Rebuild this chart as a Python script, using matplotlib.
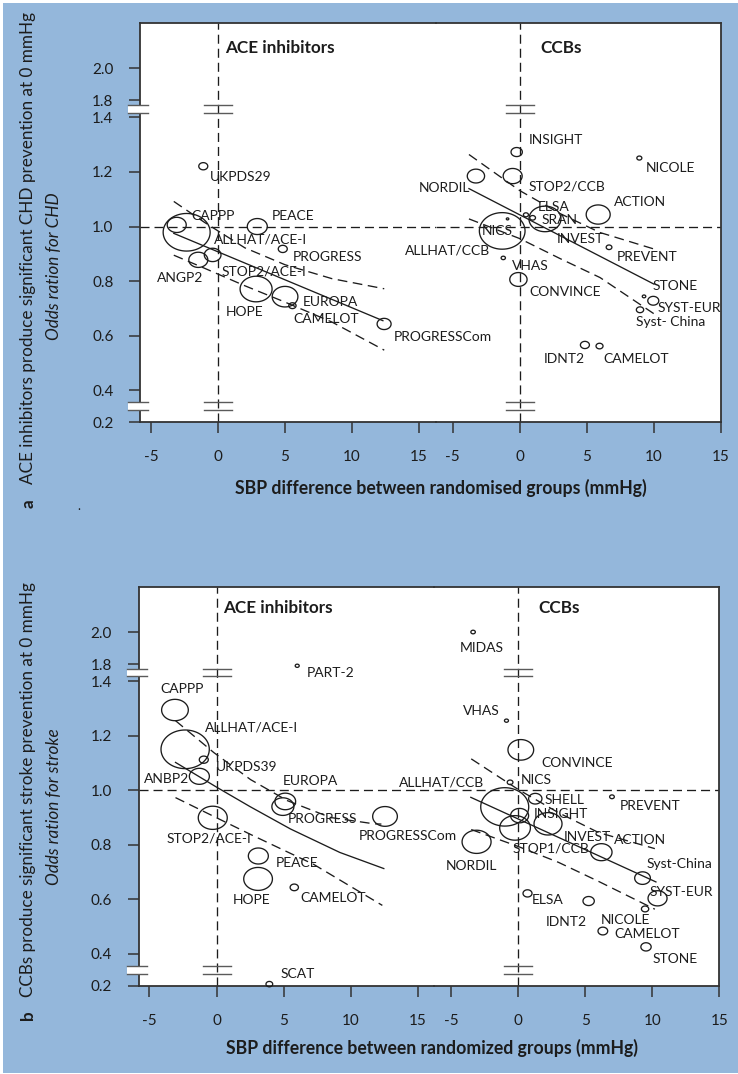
import numpy as np
import matplotlib
matplotlib.use("Agg")
import matplotlib.pyplot as plt
from matplotlib.path import Path
from matplotlib.patches import Rectangle
from matplotlib.lines import Line2D
from matplotlib.transforms import IdentityTransform

plt.rcParams["font.family"] = ["Lato", "DejaVu Sans"]
plt.rcParams["lines.scale_dashes"] = False

W, H, DPI = 738, 1074, 100
PT = DPI / 72.0  # pixels per point

# ---------------------------------------------------------------- data
y_ticks = [0.2, 0.4, 0.6, 0.8, 1.0, 1.2, 1.4, 1.8, 2.0]
y_tick_labels = ["0.2", "0.4", "0.6", "0.8", "1.0", "1.2", "1.4", "1.8", "2.0"]
x_ticks = [-5, 0, 5, 10, 15]
x_tick_labels = ["-5", "0", "5", "10", "15"]

# Panel a: CHD, ACE inhibitor trials
chd_ace_names = ["UKPDS29", "CAPPP", "ALLHAT/ACE-I", "PEACE", "PROGRESS", "ANGP2",
                 "STOP2/ACE-I", "HOPE", "EUROPA", "CAMELOT", "PROGRESSCom"]
chd_ace_sbp = [-1.1, -3.08, -2.34, 2.93, 4.83, -1.47, -0.4, 2.84, 5.0, 5.55, 12.39]
chd_ace_or = [1.221, 1.006, 0.979, 1.0, 0.918, 0.878, 0.896, 0.771, 0.743, 0.710, 0.643]
chd_ace_weight = [10, 20, 48, 21, 10, 20, 17.7, 33, 26.7, 8.3, 15]
chd_ace_fit_sbp = [-3.3, 12.3]
chd_ace_fit_or = [0.975, 0.655]
chd_ace_hi_sbp = [-3.3, -1, 2, 5, 8.5, 12.4]
chd_ace_hi_or = [1.092, 1.015, 0.922, 0.860, 0.809, 0.772]
chd_ace_lo_sbp = [-3.3, -1, 2, 5, 8.5, 12.4]
chd_ace_lo_or = [0.895, 0.847, 0.783, 0.723, 0.650, 0.547]

# Panel a: CHD, calcium channel blocker trials
chd_ccb_names = ["INSIGHT", "NORDIL", "STOP2/CCB", "NICOLE", "ELSA", "SRAN", "INVEST",
                 "ACTION", "PREVENT", "NICS", "ALLHAT/CCB", "VHAS", "CONVINCE", "STONE",
                 "SYST-EUR", "Syst- China", "IDNT2", "CAMELOT"]
chd_ccb_sbp = [-0.22, -3.26, -0.52, 8.93, 0.47, 0.97, 1.89, 5.86, 6.67, -0.9, -1.3,
               -1.22, -0.09, 9.28, 9.97, 8.98, 4.87, 5.96]
chd_ccb_or = [1.273, 1.185, 1.185, 1.251, 1.043, 1.032, 1.028, 1.044, 0.924, 1.028,
              0.984, 0.885, 0.806, 0.744, 0.728, 0.695, 0.566, 0.562]
chd_ccb_weight = [12.3, 18.3, 20, 6, 6, 6.7, 33, 25, 6.7, 3.5, 46.7, 5.3, 18.3, 4.5,
                  12, 8.3, 10, 8]
chd_ccb_fit_sbp = [-3.78, 10.02]
chd_ccb_fit_or = [1.139, 0.789]
chd_ccb_hi_sbp = [-3.78, 0, 3, 6, 10]
chd_ccb_hi_or = [1.264, 1.132, 1.048, 0.978, 0.918]
chd_ccb_lo_sbp = [-3.78, 0, 3, 6, 10]
chd_ccb_lo_or = [1.028, 0.956, 0.883, 0.813, 0.681]

# Panel b: stroke, ACE inhibitor trials
stk_ace_names = ["PART-2", "CAPPP", "ALLHAT/ACE-I", "UKPDS39", "ANBP2", "EUROPA",
                 "PROGRESS", "PROGRESSCom", "STOP2/ACE-I", "PEACE", "HOPE", "CAMELOT",
                 "SCAT"]
stk_ace_sbp = [6.02, -3.1, -2.34, -0.95, -1.28, 5.13, 4.95, 12.57, -0.28, 3.12, 3.1,
               5.8, 3.94]
stk_ace_or = [1.76, 1.294, 1.150, 1.112, 1.051, 0.959, 0.940, 0.904, 0.899, 0.759,
              0.675, 0.644, 0.21]
stk_ace_weight = [5, 27.7, 49.3, 10, 21, 21.7, 23, 25.7, 30, 21, 29.7, 9.3, 7.7]
stk_ace_fit_sbp = [-3.06, 0.05, 2.5, 5.52, 9.2, 12.48]
stk_ace_fit_or = [1.102, 1.010, 0.940, 0.858, 0.772, 0.713]
stk_ace_hi_sbp = [-3.06, -0.2, 2.54, 5.28, 8.51, 11.74, 12.3]
stk_ace_hi_or = [1.255, 1.138, 1.039, 0.962, 0.900, 0.877, 0.876]
stk_ace_lo_sbp = [-3.06, 2.54, 7.26, 12.37]
stk_ace_lo_or = [0.973, 0.838, 0.728, 0.578]

# Panel b: stroke, calcium channel blocker trials
stk_ccb_names = ["MIDAS", "VHAS", "CONVINCE", "NICS", "ALLHAT/CCB", "SHELL", "PREVENT",
                 "INSIGHT", "STOP1/CCB", "INVEST", "ACTION", "Syst-China", "SYST-EUR",
                 "NICOLE", "ELSA", "IDNT2", "CAMELOT", "STONE", "NORDIL"]
stk_ccb_sbp = [-3.36, -0.87, 0.2, -0.6, -1.0, 1.28, 7.0, 0.11, -0.23, 2.23, 6.21, 9.28,
               10.4, 9.47, 0.7, 5.26, 6.32, 9.54, -3.1]
stk_ccb_or = [2.0, 1.255, 1.148, 1.029, 0.939, 0.969, 0.976, 0.907, 0.862, 0.877, 0.773,
              0.678, 0.604, 0.565, 0.622, 0.594, 0.484, 0.426, 0.811]
stk_ccb_weight = [5.5, 5, 26.7, 6.7, 49, 14.3, 5.7, 19, 31.7, 29, 22.3, 16.7, 20, 8.3,
                  10, 12.3, 10.7, 11.3, 30]
stk_ccb_fit_sbp = [-3.53, 10.28]
stk_ccb_fit_or = [0.974, 0.664]
stk_ccb_hi_sbp = [-3.5, 0, 3, 6, 10.2]
stk_ccb_hi_or = [1.115, 1.003, 0.918, 0.845, 0.786]
stk_ccb_lo_sbp = [-3.5, 0, 3, 6, 10.2]
stk_ccb_lo_or = [0.856, 0.794, 0.736, 0.666, 0.564]

# ------------------------------------------------- label placement (px)
chd_ace_lab = [(6.7, 11, "l"), (15, -9.3, "l"), (27.3, 7.6, "l"), (14.4, -11, "l"),
               (10, 8.4, "l"), (5, 18, "r"), (9, 16.4, "l"), (-30, 23.4, "l"),
               (17.7, 5, "l"), (1, 13.3, "l"), (9.3, 13.4, "l")]
chd_ccb_lab = [(11.6, -12.4, "l"), (-6, 11.6, "r"), (15.6, 10.3, "l"), (6.7, 10.3, "l"),
               (12.3, -7.6, "l"), (9, 2, "l"), (11.7, 20, "l"), (15.8, -12.3, "l"),
               (7.7, 10, "l"), (5.6, 11.7, "r"), (-12.3, 19.7, "r"), (8.4, 7.7, "l"),
               (10.8, 12.9, "l"), (8.7, -10.7, "l"), (4.4, 7.7, "l"), (-4, 12.7, "l"),
               (0, 14, "r"), (3.6, 13, "l")]
stk_ace_lab = [(10, 7.3, "l"), (-14.5, -21.5, "l"), (20.3, -21.5, "l"), (11.7, 7.5, "l"),
               (-10.5, 2.5, "r"), (-2.5, -20.8, "l"), (5, 12.1, "l"), (-26.2, 19.5, "l"),
               (-46.3, 21.1, "l"), (17.2, 7.2, "l"), (-25.8, 20.8, "l"), (6.3, 10.5, "l"),
               (11.2, -10.4, "l")]
stk_ccb_lab = [(-13.3, 15.6, "l"), (-6.4, -9.3, "r"), (20.7, 13.5, "l"), (10.7, -2.4, "l"),
               (-20.5, -24.6, "r"), (9.5, 1, "l"), (7.8, 8.8, "l"), (14.5, -1.2, "l"),
               (-2.5, 20.8, "l"), (16.1, 12.7, "l"), (12.8, -11.7, "l"), (4.3, -14.5, "l"),
               (-7.7, -6.3, "l"), (5.1, 11.2, "r"), (4.3, 6.3, "l"), (-1.8, 21, "r"),
               (12, 2.9, "l"), (6.7, 12.3, "l"), (-30.7, 23.7, "l")]

# ---------------------------------------------------------------- style
BG = "#94b7db"
INK = "#1c1c1c"
SPINE = "#333333"
BRK = "#5a5a5a"
LW = 0.95
REF_DASH = (6.5, 3.6)
FIT_DASH = (7.0, 4.0)

# broken odds-ratio axis: 0.2-0.4 and 1.8-2.x compressed, 1.4-1.8 gap
seg_data = np.array([-1.0, 0.2, 0.4, 1.4, 1.8, 2.0, 4.0])
seg_t = np.array([0.2837 - 1.2 * 0.582, 0.2837, 0.4, 1.4, 1.4624, 1.5798,
                  1.5798 + 2.0 * 0.587])


def fwd(y):
    return np.interp(y, seg_data, seg_t)


def inv(t):
    return np.interp(t, seg_t, seg_data)


Y_TOP = 2.283
KX = 13.405          # px per mmHg
AX_H = 399

t = np.linspace(0, 2 * np.pi, 73)
ELLIPSE = Path(np.column_stack([np.cos(t), 0.8 * np.sin(t)]), closed=True)

fig = plt.figure(figsize=(W / DPI, H / DPI), dpi=DPI, facecolor=BG)

# thin white frame strips round the coloured page
for (x0, y0, w, h) in [(0, 0, 3, H), (0, H - 3, W, 3), (0, 0, W, 1)]:
    fig.patches.append(Rectangle((x0 / W, y0 / H), w / W, h / H, transform=fig.transFigure,
                                 facecolor="white", edgecolor="none", zorder=-10))


def frac(x, y):
    return x / W, 1 - y / H


def draw_points(ax, sbp, orr, weight, names, labs):
    s = ((np.asarray(weight) - 1.0) / PT) ** 2
    ax.scatter(sbp, orr, s=s, marker=ELLIPSE, facecolors="none", edgecolors=INK,
               linewidths=LW, zorder=4, clip_on=False)
    for x, y, name, (dx, dy, ha) in zip(sbp, orr, names, labs):
        ax.annotate(name, (x, y), xytext=(dx, -dy), textcoords="offset pixels",
                    ha="left" if ha == "l" else "right", va="center",
                    fontsize=10, color=INK, zorder=5, annotation_clip=False)


def draw_fit(ax, fx, fy, hx, hy, lx, ly):
    ax.plot(fx, fy, color=INK, lw=LW, zorder=3)
    ax.plot(hx, hy, color=INK, lw=LW, dashes=FIT_DASH, zorder=3)
    ax.plot(lx, ly, color=INK, lw=LW, dashes=FIT_DASH, zorder=3)


def break_marks(ax, xd, spine):
    for ya, yb in [(1.4, 1.8), (0.2, 0.4)]:
        X, Y1 = ax.transData.transform((xd, ya))
        _, Y2 = ax.transData.transform((xd, yb))
        yc = 0.5 * (Y1 + Y2)
        if spine:
            x0, x1 = X - 12, X + 8
            fig.patches.append(Rectangle((x0, yc - 3.7), x1 - x0, 7.4,
                                         transform=IdentityTransform(),
                                         facecolor="white", edgecolor="none", zorder=6))
        else:
            x0, x1 = X - 14, X + 14
        for yy in (yc - 3.7, yc + 3.7):
            fig.add_artist(Line2D([x0, x1], [yy, yy], transform=IdentityTransform(),
                                  color=BRK, lw=1.0, zorder=7))


def panel(left_px, top_px, ace, ccb, title_y, xlabel, xlabel_xy, ylab):
    bottom = 1 - (top_px + AX_H) / H
    wl = (16.25 + 5.82) * KX
    wr = (15 + 6.25) * KX
    fig.patches.append(Rectangle((left_px / W, bottom), (wl + wr) / W, AX_H / H,
                                 transform=fig.transFigure, facecolor="white",
                                 edgecolor="none", zorder=-10))
    axl = fig.add_axes([left_px / W, bottom, wl / W, AX_H / H])
    axr = fig.add_axes([(left_px + wl) / W, bottom, wr / W, AX_H / H])
    for ax, xlim in ((axl, (-5.82, 16.25)), (axr, (-6.25, 15))):
        ax.set_facecolor("none")
        ax.set_yscale("function", functions=(fwd, inv))
        ax.set_ylim(0.2, Y_TOP)
        ax.set_xlim(*xlim)
        ax.set_xticks(x_ticks)
        ax.set_xticklabels(x_tick_labels)
        ax.tick_params(axis="x", direction="out", length=8, width=1.1, color=SPINE,
                       pad=12.5, labelsize=11, labelcolor=INK)
        for sp in ax.spines.values():
            sp.set_color(SPINE)
            sp.set_linewidth(1.3)
        ax.axhline(1.0, color=INK, lw=LW, dashes=REF_DASH, zorder=2)
        ax.axvline(0.0, color=INK, lw=LW, dashes=REF_DASH, zorder=2)
    axl.spines["right"].set_visible(False)
    axr.spines["left"].set_visible(False)
    axl.set_yticks(y_ticks)
    axl.set_yticklabels(y_tick_labels)
    axl.yaxis.set_minor_locator(matplotlib.ticker.NullLocator())
    axr.yaxis.set_minor_locator(matplotlib.ticker.NullLocator())
    axl.tick_params(axis="y", direction="out", length=8, width=1.1, color=SPINE,
                    pad=11, labelsize=11, labelcolor=INK)
    axr.tick_params(axis="y", left=False, labelleft=False)

    draw_fit(axl, *ace[5:])
    draw_points(axl, *ace[:5])
    draw_fit(axr, *ccb[5:])
    draw_points(axr, *ccb[:5])

    break_marks(axl, -5.82, True)
    break_marks(axl, 0.0, False)
    break_marks(axr, 0.0, False)

    ty = title_y
    fig.text(*frac(left_px + 85, ty), "ACE inhibitors", fontsize=12.3, fontweight="bold",
             color=INK, ha="left", va="center")
    fig.text(*frac(left_px + 400, ty), "CCBs", fontsize=12.3, fontweight="bold",
             color=INK, ha="left", va="center")
    fig.text(*frac(*xlabel_xy), xlabel, fontsize=12.7, fontweight="bold", color=INK,
             ha="center", va="center")

    (tag, tag_y, line1, l1_y, line2, l2_y) = ylab
    fig.text(*frac(33.5, tag_y), tag, fontsize=12.3, fontweight="bold", color=INK,
             rotation=90, rotation_mode="anchor", ha="left", va="baseline")
    fig.text(*frac(33.5, l1_y), line1, fontsize=12.3, color=INK,
             rotation=90, rotation_mode="anchor", ha="left", va="baseline")
    fig.text(*frac(59.5, l2_y), line2, fontsize=12.3, style="italic", color=INK,
             rotation=90, rotation_mode="anchor", ha="left", va="baseline")


panel(140, 23,
      (chd_ace_sbp, chd_ace_or, chd_ace_weight, chd_ace_names, chd_ace_lab,
       chd_ace_fit_sbp, chd_ace_fit_or, chd_ace_hi_sbp, chd_ace_hi_or,
       chd_ace_lo_sbp, chd_ace_lo_or),
      (chd_ccb_sbp, chd_ccb_or, chd_ccb_weight, chd_ccb_names, chd_ccb_lab,
       chd_ccb_fit_sbp, chd_ccb_fit_or, chd_ccb_hi_sbp, chd_ccb_hi_or,
       chd_ccb_lo_sbp, chd_ccb_lo_or),
      48, "SBP difference between randomised groups (mmHg)", (440.8, 488.3),
      ("a", 508.5, "ACE inhibitors produce significant CHD prevention at 0 mmHg", 484,
       "Odds ration for CHD", 340))

panel(138.5, 586.7,
      (stk_ace_sbp, stk_ace_or, stk_ace_weight, stk_ace_names, stk_ace_lab,
       stk_ace_fit_sbp, stk_ace_fit_or, stk_ace_hi_sbp, stk_ace_hi_or,
       stk_ace_lo_sbp, stk_ace_lo_or),
      (stk_ccb_sbp, stk_ccb_or, stk_ccb_weight, stk_ccb_names, stk_ccb_lab,
       stk_ccb_fit_sbp, stk_ccb_fit_or, stk_ccb_hi_sbp, stk_ccb_hi_or,
       stk_ccb_lo_sbp, stk_ccb_lo_or),
      608, "SBP difference between randomized groups (mmHg)", (432.3, 1048.3),
      ("b", 1020.5, "CCBs produce significant stroke prevention at 0 mmHg", 997,
       "Odds ration for stroke", 885))

fig.text(*frac(79, 506), ".", fontsize=9, color=INK, ha="center", va="center")

fig.savefig("out.png", dpi=DPI, facecolor=BG)
